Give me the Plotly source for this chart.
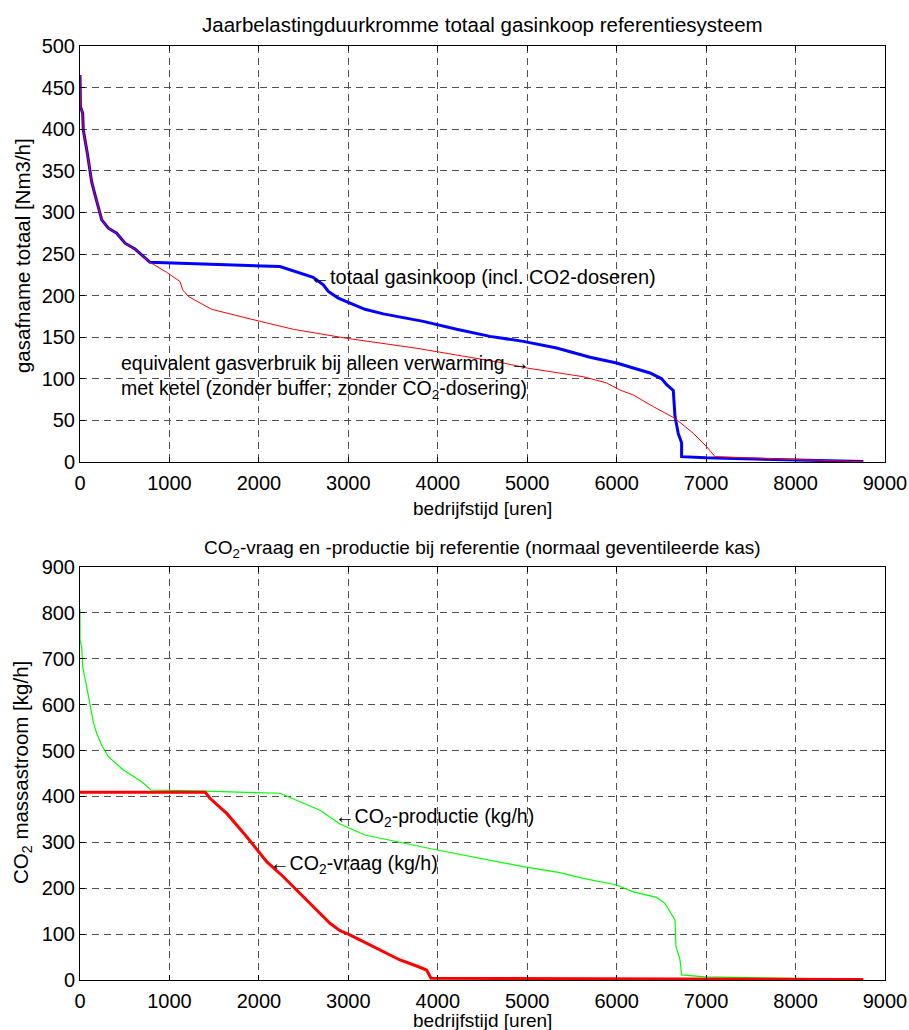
import plotly.graph_objects as go

# ---- Data: top chart (gas) ----
gas_blue_x = [0, 5, 30, 37, 82, 130, 168, 243, 317, 410, 503, 615, 783, 2236, 2606, 2720, 2776, 2888,
              3019, 3186, 3391, 3838, 4211, 4584, 4956, 5329, 5702, 6000, 6186, 6373, 6503, 6559, 6633,
              6652, 6689, 6726, 6726, 7000, 8000, 8757]
gas_blue_y = [465, 427, 419, 399, 371, 337, 321, 291, 281, 275, 263, 256, 240, 235, 222, 213, 205, 197,
              191, 183.5, 178, 169, 159.5, 151, 145, 137, 126, 119, 113, 107, 100, 93, 86,
              55, 34, 23, 6.4, 5, 2.5, 0.5]
gas_red_x = [0, 5, 30, 37, 82, 130, 168, 243, 317, 410, 503, 615, 783, 969, 1118, 1148, 1211, 1342,
             1472, 1901, 2385, 2982, 3764, 4211, 4733, 4994, 5254, 5627, 5888, 6037, 6186, 6410, 6652,
             6857, 7006, 7100, 8000, 8757]
gas_red_y = [465, 427, 419, 399, 371, 337, 321, 291, 281, 275, 263, 256, 240, 228, 217, 207, 199, 191,
             183.5, 172, 159.5, 148.7, 136.7, 128.6, 119, 113, 109, 102.5, 95, 86.5, 80.5, 66.5, 52.5,
             34.5, 18.4, 6.4, 3, 0.3]

# ---- Data: bottom chart (CO2) ----
co2_prod_x = [0, 0, 19, 30, 67, 112, 149, 186, 242, 317, 485, 690, 794, 1286, 2236, 2683, 2907, 3186,
              3950, 4956, 5254, 5366, 5627, 6000, 6186, 6447, 6540, 6652, 6663, 6708, 6726, 6988, 7994, 8757]
co2_prod_y = [808, 741, 726, 683, 647, 596, 562, 537.5, 512, 486.6, 457.6, 432, 414, 412, 407, 370, 340, 316,
              285, 247, 237.5, 234, 221.5, 207, 192, 180, 167, 131, 73, 44, 11, 7, 3.6, 0.5]
co2_vraag_x = [0, 1400, 1453, 1640, 1864, 2087, 2273, 2460, 2646, 2795, 2907, 3000, 3168, 3354, 3578,
               3764, 3875, 3924, 5000, 8757]
co2_vraag_y = [409, 409, 396, 363, 312, 258, 225, 189, 152.5, 123.5, 107.5, 100, 83.5, 65, 43.6,
               30.5, 21.8, 3.7, 3, 1]

x_ticks = [0, 1000, 2000, 3000, 4000, 5000, 6000, 7000, 8000, 9000]
gas_ticks = [0, 50, 100, 150, 200, 250, 300, 350, 400, 450, 500]
co2_ticks = [0, 100, 200, 300, 400, 500, 600, 700, 800, 900]

FONT = "Liberation Sans, Arial, sans-serif"

fig = go.Figure()
fig.add_trace(go.Scatter(x=gas_blue_x, y=gas_blue_y, mode="lines", line=dict(color="#0000ff", width=3),
                         xaxis="x", yaxis="y", showlegend=False))
fig.add_trace(go.Scatter(x=gas_red_x, y=gas_red_y, mode="lines", line=dict(color="#ff0000", width=1),
                         xaxis="x", yaxis="y", showlegend=False))
fig.add_trace(go.Scatter(x=co2_prod_x, y=co2_prod_y, mode="lines", line=dict(color="#00ff00", width=1.2),
                         xaxis="x2", yaxis="y2", showlegend=False))
fig.add_trace(go.Scatter(x=co2_vraag_x, y=co2_vraag_y, mode="lines", line=dict(color="#ff0000", width=3),
                         xaxis="x2", yaxis="y2", showlegend=False))

PH = 980 - 46
def py(pix):
    return (980 - pix) / PH

axis_common = dict(showline=True, linecolor="black", linewidth=1, mirror="ticks", ticks="inside",
                   ticklen=5, tickcolor="black", showgrid=True, gridcolor="#505050", griddash="7px,5px",
                   gridwidth=1, zeroline=False, automargin=False,
                   tickfont=dict(family=FONT, size=20, color="black"))

fig.update_layout(
    width=909, height=1030,
    margin=dict(l=80, r=24, t=46, b=50, autoexpand=False),
    paper_bgcolor="white", plot_bgcolor="white",
    xaxis=dict(domain=[0, 1], range=[0, 9000], tickvals=x_ticks, anchor="y", ticklabelstandoff=3, **axis_common),
    yaxis=dict(domain=[py(462), 1], range=[0, 500], tickvals=gas_ticks, anchor="x", **axis_common),
    xaxis2=dict(domain=[0, 1], range=[0, 9000], tickvals=x_ticks, anchor="y2", ticklabelstandoff=3, **axis_common),
    yaxis2=dict(domain=[0, py(567)], range=[0, 900], tickvals=co2_ticks, anchor="x2", **axis_common),
    font=dict(family=FONT, color="black"),
)

def ann(text, x, y, xref="paper", yref="paper", size=15, xanchor="center", yanchor="middle", angle=0, align="center"):
    fig.add_annotation(text=text, x=x, y=y, xref=xref, yref=yref, showarrow=False, xanchor=xanchor,
                       yanchor=yanchor, textangle=angle, align=align,
                       font=dict(family=FONT, size=size, color="black"))

# titles and axis labels
ann("Jaarbelastingduurkromme totaal gasinkoop referentiesysteem", 0.5, py(24), size=20.5)
ann("bedrijfstijd [uren]", 0.5, py(509), size=19)
ann("gasafname totaal [Nm3/h]", -0.072, py(256), size=20.5, angle=-90)
ann("CO<sub>2</sub>-vraag en -productie bij referentie (normaal geventileerde kas)", 0.5, py(549), size=19)
ann("bedrijfstijd [uren]", 0.5, py(1020), size=19)
ann("CO<sub>2</sub> massastroom [kg/h]", -0.072, py(773), size=20.5, angle=-90)

# in-plot annotations
ann("\u2190totaal gasinkoop (incl. CO2-doseren)", 2550, 222, xref="x", yref="y", size=20, xanchor="left")
ann("equivalent gasverbruik bij alleen verwarming \u2192<br>met ketel (zonder buffer; zonder CO<sub>2</sub>-dosering)",
    436, 102, xref="x", yref="y", size=19.5, xanchor="left", align="left")
ann("\u2190CO<sub>2</sub>-productie (kg/h)", 2829, 355, xref="x2", yref="y2", size=19.6, xanchor="left")
ann("\u2190CO<sub>2</sub>-vraag (kg/h)", 2102, 251, xref="x2", yref="y2", size=19.6, xanchor="left")

fig.write_html("out.html", config={"displayModeBar": False},
               post_script="document.body.style.margin='0px';")
